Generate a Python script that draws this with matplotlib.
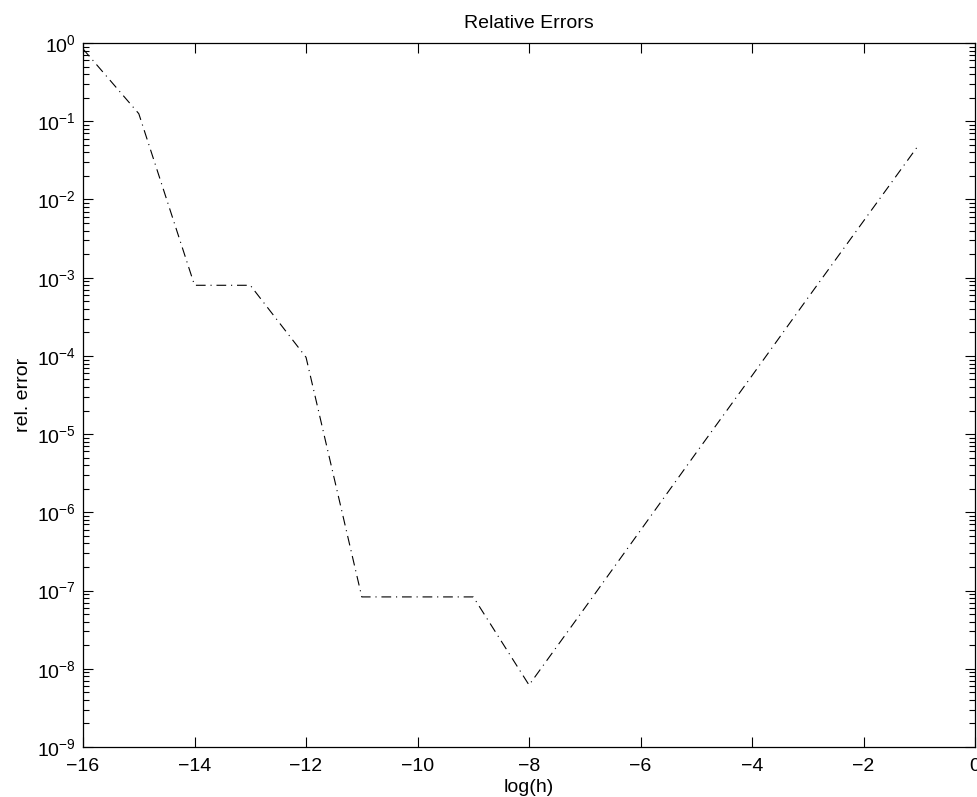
import numpy as np
import matplotlib
matplotlib.use("Agg")
import matplotlib.pyplot as plt
from matplotlib.ticker import LogLocator, NullFormatter

# log10 of step size h and relative error of the approximation
log_h = [-16, -15, -14, -13, -12, -11, -10, -9, -8, -7, -6, -5, -4, -3, -2, -1]
rel_err = [8.4e-1, 1.25e-1, 8.0e-4, 8.0e-4, 9.6e-5, 8.3e-8, 8.3e-8, 8.3e-8,
           6.2e-9, 6.0e-8, 5.9e-7, 5.8e-6, 5.6e-5, 5.5e-4, 5.3e-3, 5.1e-2]
x_ticks = list(range(-16, 1, 2))

plt.rcParams['font.family'] = ['Liberation Sans', 'DejaVu Sans']
plt.rcParams['mathtext.default'] = 'regular'
plt.rcParams['lines.scale_dashes'] = False

fig = plt.figure(figsize=(9.77, 7.97), dpi=100)
ax = fig.add_axes([0.085, 0.0627, 0.913, 0.8833])

ax.plot(log_h, rel_err, color='black', linewidth=0.8,
        linestyle=(0, (7, 3.5, 0.8, 3.5)))

ax.set_yscale('log')
ax.set_xlim(-16, 0)
ax.set_ylim(1e-9, 1e0)
ax.set_xticks(x_ticks)
ax.yaxis.set_major_locator(LogLocator(base=10, numticks=20))
ax.yaxis.set_minor_locator(LogLocator(base=10, subs=np.arange(2, 10), numticks=20))
ax.yaxis.set_minor_formatter(NullFormatter())

ax.tick_params(axis='both', which='both', direction='in', top=True, right=True,
               labelsize=14, width=0.8)
ax.tick_params(which='major', length=7)
ax.tick_params(which='minor', length=4)
ax.tick_params(axis='x', pad=8)
ax.tick_params(axis='y', pad=5)
for s in ax.spines.values():
    s.set_linewidth(0.9)

ax.set_title('Relative Errors', fontsize=14, pad=11)
ax.set_xlabel('log(h)', fontsize=14, labelpad=3)
ax.set_ylabel('rel. error', fontsize=14, labelpad=4)

fig.savefig('out.png', dpi=100)
